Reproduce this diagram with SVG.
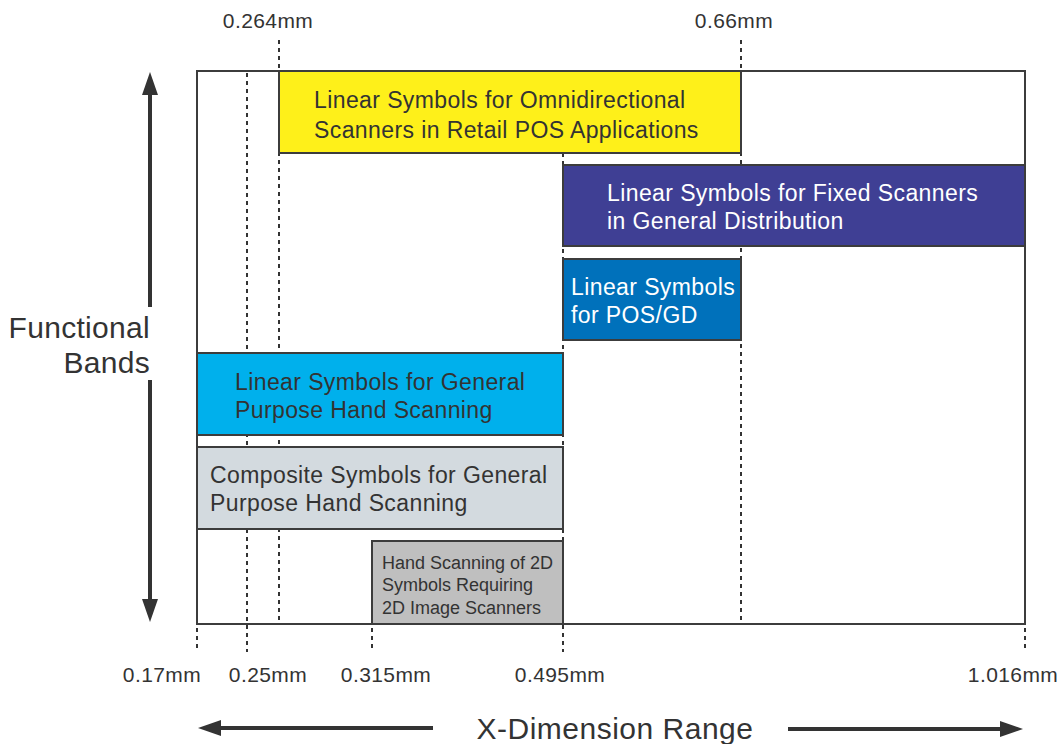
<svg xmlns="http://www.w3.org/2000/svg" width="1061" height="744" viewBox="0 0 1061 744">
<style>
text{font-family:"Liberation Sans",Arial,sans-serif;fill:#333}
.box{stroke:#3c3c3c;stroke-width:2}
.dash{stroke:#333;stroke-width:2;stroke-dasharray:4 4;fill:none}
.lbl{font-size:23px;letter-spacing:0.4px}
.w{fill:#fff}
.tick{font-size:21px;letter-spacing:0.4px;text-anchor:middle}
.arr{stroke:#333;stroke-width:4;fill:none}
</style>
<rect x="0" y="0" width="1061" height="744" fill="#fff"/>
<g id="frame"><rect x="197" y="71" width="828" height="553" fill="#fff" class="box"/></g>
<g id="gridlines">
<line class="dash" x1="247" y1="73" x2="247" y2="652"/>
<line class="dash" x1="279" y1="40" x2="279" y2="622"/>
<line class="dash" x1="563" y1="153" x2="563" y2="652"/>
<line class="dash" x1="741" y1="40" x2="741" y2="622"/>
<line class="dash" x1="197" y1="628" x2="197" y2="652"/>
<line class="dash" x1="372" y1="628" x2="372" y2="652"/>
<line class="dash" x1="1025" y1="628" x2="1025" y2="652"/>
</g>
<g id="omni"><rect class="box" x="279" y="71" width="462" height="82" fill="#fef01a"/>
<text class="lbl" x="314" y="108">Linear Symbols for Omnidirectional</text>
<text class="lbl" x="314" y="138">Scanners in Retail POS Applications</text></g>
<g id="fixed"><rect class="box" x="563" y="165" width="462" height="81" fill="#3f3f94"/>
<text class="lbl w" x="607" y="201">Linear Symbols for Fixed Scanners</text>
<text class="lbl w" x="607" y="229">in General Distribution</text></g>
<g id="posgd"><rect class="box" x="563" y="259" width="178" height="81" fill="#0071bb"/>
<text class="lbl w" x="571" y="295">Linear Symbols</text>
<text class="lbl w" x="571" y="323">for POS/GD</text></g>
<g id="general"><rect class="box" x="197" y="353" width="366" height="82" fill="#00b0ec"/>
<text class="lbl" x="235" y="390">Linear Symbols for General</text>
<text class="lbl" x="235" y="418">Purpose Hand Scanning</text></g>
<g id="composite"><rect class="box" x="197" y="447" width="366" height="82" fill="#d3dadf"/>
<text class="lbl" x="210" y="483">Composite Symbols for General</text>
<text class="lbl" x="210" y="511">Purpose Hand Scanning</text></g>
<g id="twod"><rect class="box" x="372" y="541" width="191" height="83" fill="#bfbfbf"/>
<text x="382" y="569" font-size="18">Hand Scanning of 2D</text>
<text x="382" y="591" font-size="18">Symbols Requiring</text>
<text x="382" y="614" font-size="18">2D Image Scanners</text></g>
<g id="ticks">
<text class="tick" x="268" y="28">0.264mm</text>
<text class="tick" x="734" y="28">0.66mm</text>
<text class="tick" x="162" y="682">0.17mm</text>
<text class="tick" x="268" y="682">0.25mm</text>
<text class="tick" x="386" y="682">0.315mm</text>
<text class="tick" x="560" y="682">0.495mm</text>
<text class="tick" x="1013" y="682">1.016mm</text>
</g>
<g id="axes">
<line class="arr" x1="150" y1="307" x2="150" y2="92"/>
<path d="M142,95L150,72L158,95z" fill="#333"/>
<line class="arr" x1="150" y1="380" x2="150" y2="602"/>
<path d="M142,599L150,622L158,599z" fill="#333"/>
<line class="arr" x1="433" y1="728" x2="218" y2="728"/>
<path d="M221,720L198,728L221,736z" fill="#333"/>
<line class="arr" x1="788" y1="729" x2="1003" y2="729"/>
<path d="M1000,721L1023,729L1000,737z" fill="#333"/>
<text x="150" y="338" font-size="30" letter-spacing="0.3" text-anchor="end">Functional</text>
<text x="150" y="373" font-size="30" letter-spacing="0.3" text-anchor="end">Bands</text>
<text x="615" y="739" font-size="30" letter-spacing="0.5" text-anchor="middle">X-Dimension Range</text>
</g>
</svg>
